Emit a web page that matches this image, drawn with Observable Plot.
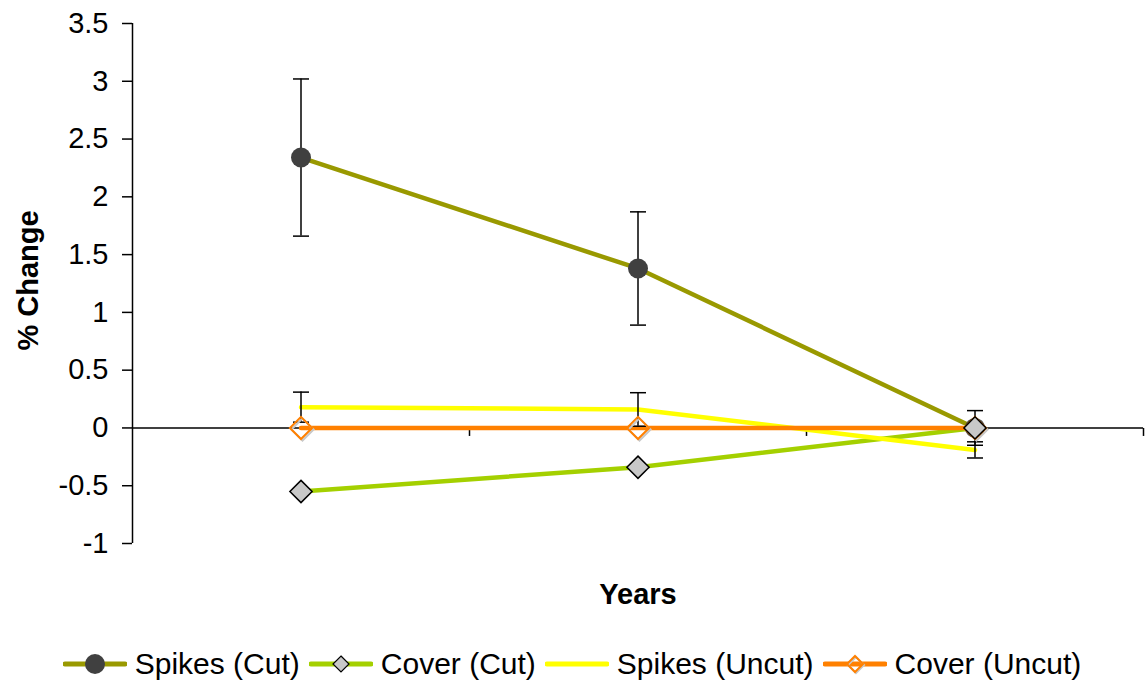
<!DOCTYPE html>
<html>
<head>
<meta charset="utf-8">
<script src="https://cdn.jsdelivr.net/npm/d3@7"></script>
<script src="https://cdn.jsdelivr.net/npm/@observablehq/plot@0.6"></script>
<style>
  body { margin: 0; background: #fff; font-family: "Liberation Sans", Arial, sans-serif; }
  #chart svg { display: block; }
  #legend { display: flex; justify-content: center; align-items: center; margin-top: 26px; height: 36px;
            font-size: 30px; color: #000; font-family: "Liberation Sans", Arial, sans-serif; padding-left: 8px; }
  .item { display: flex; align-items: center; margin-right: 9px; }
  .item svg { margin-right: 8px; }
</style>
</head>
<body>
<div id="chart"></div>
<div id="legend"></div>
<script>
// ---- data ----
const years = [1, 2, 3];
const yTicks = [-1, -0.5, 0, 0.5, 1, 1.5, 2, 2.5, 3, 3.5];
const seriesNames = ["Spikes (Cut)", "Cover (Cut)", "Spikes (Uncut)", "Cover (Uncut)"];
const spikesCut = [2.34, 1.38, 0.0];
const spikesCutErr = [0.68, 0.49, 0.15];
const coverCut = [-0.55, -0.34, 0.0];
const spikesUncut = [0.18, 0.16, -0.19];
const spikesUncutErr = [0.13, 0.145, 0.07];
const coverUncut = [0, 0, 0];
const colors = ["#999900", "#a4d000", "#ffff00", "#ff8000"];

const rows = (vals, errs) => years.map((yr, i) => ({year: yr, value: vals[i], err: errs ? errs[i] : 0}));
const sc = rows(spikesCut, spikesCutErr);
const cc = rows(coverCut);
const su = rows(spikesUncut, spikesUncutErr);
const cu = rows(coverUncut);
const xDomain = [years[0] - 0.5, years[years.length - 1] + 0.5];
const boundaries = years.map(y => y + 0.5);

const capSymbol = {draw(ctx) { ctx.moveTo(-8, 0); ctx.lineTo(8, 0); }};
const vTick = {draw(ctx) { ctx.moveTo(0, 0); ctx.lineTo(0, 8); }};

const errMarks = (data) => [
  Plot.ruleX(data, {x: "year", y1: d => d.value - d.err, y2: d => d.value + d.err, stroke: "#000", strokeWidth: 1.5}),
  Plot.dot(data, {x: "year", y: d => d.value + d.err, symbol: capSymbol, stroke: "#000", strokeWidth: 1.5}),
  Plot.dot(data, {x: "year", y: d => d.value - d.err, symbol: capSymbol, stroke: "#000", strokeWidth: 1.5})
];

const chart = Plot.plot({
  width: 1145,
  height: 620,
  marginTop: 23,
  marginBottom: 77,
  marginLeft: 132,
  marginRight: 2,
  style: {fontFamily: "'Liberation Sans', Arial, sans-serif", background: "#fff"},
  x: {domain: xDomain, axis: null},
  y: {domain: [yTicks[0], yTicks[yTicks.length - 1]], axis: null},
  marks: [
    Plot.axisY({ticks: yTicks, tickSize: 10, tickPadding: 14, fontSize: 29, tickFormat: d => String(d),
                stroke: "#000", strokeWidth: 1.5, color: "#000", label: null}),
    Plot.ruleX([xDomain[0]], {y1: yTicks[0], y2: yTicks[yTicks.length - 1], stroke: "#000", strokeWidth: 1.5}),
    Plot.ruleY([0], {stroke: "#000", strokeWidth: 1.5}),
    Plot.dot(boundaries, {x: d => d, y: 0, symbol: vTick, stroke: "#000", strokeWidth: 1.5}),
    Plot.line(sc, {x: "year", y: "value", stroke: colors[0], strokeWidth: 4.5}),
    Plot.line(cc, {x: "year", y: "value", stroke: colors[1], strokeWidth: 4.5}),
    Plot.line(su, {x: "year", y: "value", stroke: colors[2], strokeWidth: 4.5}),
    Plot.line(cu, {x: "year", y: "value", stroke: colors[3], strokeWidth: 4.5}),
    ...errMarks(sc),
    ...errMarks(su),
    Plot.dot(sc, {x: "year", y: "value", r: 10, fill: "#404040"}),
    Plot.dot(cu, {x: "year", y: "value", r: 10, symbol: "diamond2", fill: "none", stroke: "#c8c8c8", strokeWidth: 2, dx: 1.5, dy: 1.5}),
    Plot.dot(cu, {x: "year", y: "value", r: 10, symbol: "diamond2", fill: "none", stroke: colors[3], strokeWidth: 2}),
    Plot.dot(cc, {x: "year", y: "value", r: 10, symbol: "diamond2", fill: "#c8c8c8", stroke: "#000", strokeWidth: 1.5}),
    Plot.text(["% Change"], {frameAnchor: "left", textAnchor: "middle", dx: -104, dy: -3, rotate: -90, fontSize: 29, fontWeight: "bold", fill: "#000"}),
    Plot.text(["Years"], {frameAnchor: "bottom", dy: 60, fontSize: 29, fontWeight: "bold", fill: "#000"})
  ]
});
document.getElementById("chart").append(chart);

// ---- legend ----
const legend = document.getElementById("legend");
const markers = [
  `<circle cx="32" cy="14" r="10" fill="#404040"/>`,
  `<path d="M32,6 L40,14 L32,22 L24,14 Z" fill="#c8c8c8" stroke="#000" stroke-width="1.2"/>`,
  ``,
  `<path d="M33,7 L41,15 L33,23 L25,15 Z" fill="none" stroke="#c8c8c8" stroke-width="2"/><path d="M32,6 L40,14 L32,22 L24,14 Z" fill="none" stroke="#ff8000" stroke-width="2"/>`
];
seriesNames.forEach((name, i) => {
  const item = document.createElement("div");
  item.className = "item";
  item.innerHTML = `<svg width="64" height="28"><line x1="2" x2="62" y1="14" y2="14" stroke="${colors[i]}" stroke-width="5" stroke-linecap="round"/>${markers[i]}</svg><span>${name}</span>`;
  legend.append(item);
});
</script>
</body>
</html>
